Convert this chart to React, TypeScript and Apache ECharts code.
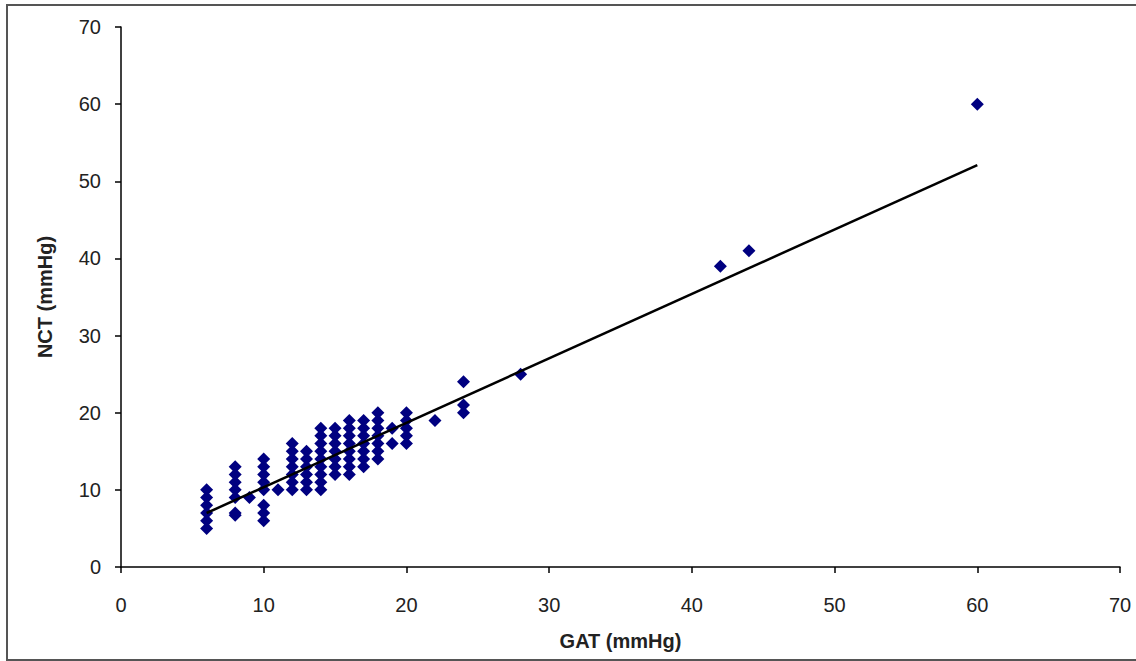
import React, { useEffect, useRef } from "react";
import * as echarts from "echarts";

// Observations: [GAT, NCT] in mmHg
const col6 = [[6, 5], [6, 6], [6, 7], [6, 8], [6, 9], [6, 10]];
const col8 = [[8, 7], [8, 6.7], [8, 9], [8, 10], [8, 11], [8, 12], [8, 13]];
const col9to11 = [[9, 9], [11, 10]];
const col10 = [[10, 6], [10, 7], [10, 8], [10, 10], [10, 11], [10, 12], [10, 13], [10, 14]];
const col12 = [[12, 10], [12, 11], [12, 12], [12, 13], [12, 14], [12, 15], [12, 16]];
const col13 = [[13, 10], [13, 11], [13, 12], [13, 13], [13, 14], [13, 15]];
const col14 = [[14, 10], [14, 11], [14, 12], [14, 13], [14, 14], [14, 15], [14, 16], [14, 17], [14, 18]];
const col15 = [[15, 12], [15, 13], [15, 14], [15, 15], [15, 16], [15, 17], [15, 18]];
const col16 = [[16, 12], [16, 13], [16, 14], [16, 15], [16, 16], [16, 17], [16, 18], [16, 19]];
const col17 = [[17, 13], [17, 14], [17, 15], [17, 16], [17, 17], [17, 18], [17, 19]];
const col18 = [[18, 14], [18, 15], [18, 16], [18, 17], [18, 18], [18, 19], [18, 20]];
const col19 = [[19, 16], [19, 18]];
const col20 = [[20, 16], [20, 17], [20, 18], [20, 19], [20, 20]];
const highValues = [[22, 19], [24, 20], [24, 21], [24, 24], [28, 25], [42, 39], [44, 41], [60, 60]];

const trendLine = [[6, 7.0], [60, 52.1]];

const axisTicks = { min: 0, max: 70, interval: 10 };
const xTitle = "GAT (mmHg)";
const yTitle = "NCT (mmHg)";

const points = [
  ...col6, ...col8, ...col9to11, ...col10, ...col12, ...col13, ...col14,
  ...col15, ...col16, ...col17, ...col18, ...col19, ...col20, ...highValues,
];

const FONT = "'Liberation Sans', Arial, sans-serif";

export default function App() {
  const ref = useRef<HTMLDivElement>(null);
  useEffect(() => {
    if (!ref.current) return;
    const chart = echarts.init(ref.current, undefined, { renderer: "svg" });
    const axisCommon = {
      min: axisTicks.min,
      max: axisTicks.max,
      interval: axisTicks.interval,
      splitLine: { show: false },
      axisLine: { show: true, onZero: false, lineStyle: { color: "#000", width: 1.5 } },
      axisTick: { show: true, inside: false, length: 6, lineStyle: { color: "#000", width: 1.5 } },
      axisLabel: { color: "#222", fontSize: 20, fontFamily: FONT },
      nameTextStyle: { color: "#222", fontSize: 20, fontWeight: "bold", fontFamily: FONT },
      nameLocation: "middle",
    };
    chart.setOption({
      animation: false,
      backgroundColor: "#fff",
      grid: { left: 121, top: 27, right: 16, bottom: 94, containLabel: false, outerBoundsMode: "none" },
      xAxis: { ...axisCommon, type: "value", name: xTitle, nameGap: 64, axisLabel: { ...axisCommon.axisLabel, margin: 28 } },
      yAxis: { ...axisCommon, type: "value", name: yTitle, nameGap: 66, axisLabel: { ...axisCommon.axisLabel, margin: 20 } },
      graphic: [
        {
          type: "rect",
          shape: { x: 7, y: 5, width: 1150, height: 655 },
          style: { fill: "none", stroke: "#555", lineWidth: 2 },
          silent: true,
        },
      ],
      series: [
        {
          type: "scatter",
          data: points,
          symbol: "diamond",
          symbolSize: 13,
          itemStyle: { color: "#000080", opacity: 1 },
          z: 2,
        },
        {
          type: "line",
          data: trendLine,
          symbol: "none",
          lineStyle: { color: "#000", width: 2.5 },
          z: 3,
        },
      ],
    });
    return () => chart.dispose();
  }, []);
  return (
    <div
      ref={ref}
      style={{ position: "fixed", left: 0, top: 0, width: 1136, height: 661 }}
    />
  );
}
